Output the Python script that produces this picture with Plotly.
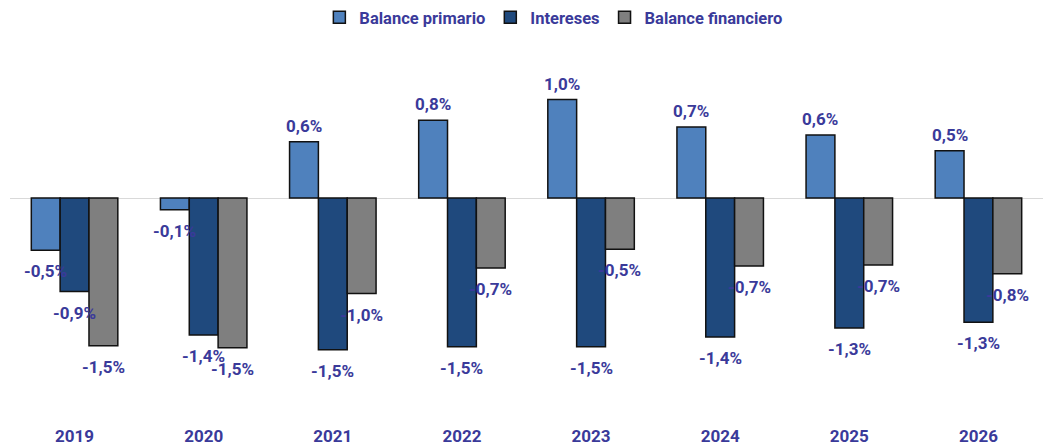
import plotly.graph_objects as go

years = ["2019", "2020", "2021", "2022", "2023", "2024", "2025", "2026"]
balance_primario = [-0.53, -0.12, 0.57, 0.79, 1.00, 0.72, 0.64, 0.48]
intereses = [-0.95, -1.39, -1.54, -1.51, -1.51, -1.41, -1.32, -1.26]
balance_financiero = [-1.50, -1.52, -0.97, -0.71, -0.52, -0.69, -0.68, -0.77]

series = [
    ("Balance primario", balance_primario, "#4F81BD"),
    ("Intereses", intereses, "#1F497D"),
    ("Balance financiero", balance_financiero, "#7F7F7F"),
]

TXT = "#3A3A9A"
FONT = "Roboto"
bargap = 0.33

fig = go.Figure()
for name, vals, col in series:
    fig.add_trace(go.Bar(
        x=years, y=vals, name=name,
        marker=dict(color=col, line=dict(color="#111111", width=1.5)),
        hoverinfo="skip",
    ))

w = (1 - bargap) / 3
for k, (name, vals, col) in enumerate(series):
    for i, v in enumerate(vals):
        fig.add_annotation(
            x=i + (k - 1) * w, y=v, xref="x", yref="y",
            text=f"{v:.1f}%".replace(".", ","),
            showarrow=False,
            yshift=16 if v >= 0 else -21,
            font=dict(family=FONT, size=17, color=TXT, weight="bold"),
        )

fig.update_layout(
    width=1043, height=446,
    margin=dict(l=10, r=0, t=40, b=22),
    paper_bgcolor="white", plot_bgcolor="white",
    barmode="group", bargap=bargap, bargroupgap=0,
    showlegend=True,
    legend=dict(orientation="h", x=0.526, xanchor="center",
                yref="container", y=1.0, yanchor="top",
                itemwidth=30,
                font=dict(family=FONT, size=16.5, color=TXT, weight="bold"),
                itemclick=False),
    xaxis=dict(type="category", showgrid=False, showline=False, ticks="",
               automargin=False,
               tickfont=dict(family=FONT, size=17, color=TXT, weight="bold")),
    yaxis=dict(range=[-2.294, 1.604], showgrid=False, showticklabels=False,
               automargin=False,
               zeroline=True, zerolinecolor="#D9D9D9", zerolinewidth=1),
)

fig.write_html("out.html", config={"displayModeBar": False},
               post_script="document.body.style.margin='0';")
